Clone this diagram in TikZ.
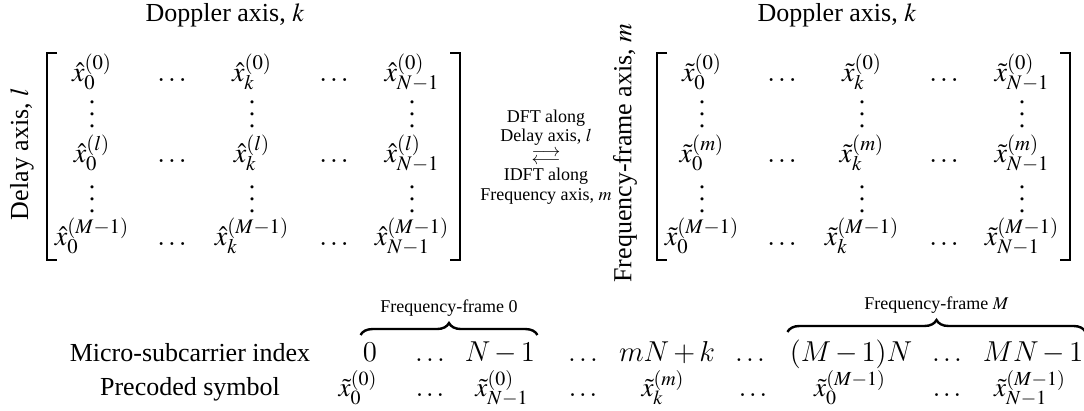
\documentclass[tikz,border=0pt,12pt]{standalone}
\usepackage{amsmath}
\usepackage{mathptmx}
\usepackage[no-math]{fontspec}
\setmainfont{Liberation Serif}
\usetikzlibrary{decorations.pathreplacing}

% computer modern math for the index row
\DeclareMathVersion{cmver}
\SetSymbolFont{operators}{cmver}{OT1}{cmr}{m}{n}
\SetSymbolFont{letters}{cmver}{OML}{cmm}{m}{it}
\SetSymbolFont{symbols}{cmver}{OMS}{cmsy}{m}{n}
\SetSymbolFont{largesymbols}{cmver}{OMX}{cmex}{m}{n}

\newcommand{\bigtext}{\fontsize{13}{15.6}\selectfont}
\newcommand{\smalltext}{\fontsize{9}{9.75}\selectfont}
\newcommand{\arrowpair}{\smash{\begin{array}{@{}c@{}}\longrightarrow\\[-6pt]\longleftarrow\end{array}}}
\newcommand{\tallvdots}{\vbox{\baselineskip6pt\lineskiplimit0pt\hbox{.}\hbox{.}\hbox{.}}}
% symbol with sub- and superscript set at fixed heights
\newcommand{\ent}[3]{#1{x}^{\smash{\raisebox{1pt}{$\scriptstyle(#3)$}}}_{\smash{\raisebox{-0.5pt}{$\scriptstyle #2$}}}}

\tikzstyle{entry}=[anchor=base, inner sep=2pt, font=\fontsize{14}{16.8}\selectfont]
\tikzstyle{vdot}=[inner sep=0pt]
\tikzstyle{axis-label}=[rotate=90]
\tikzstyle{note}=[font=\smalltext, align=center]
\tikzstyle{index}=[anchor=base, inner xsep=1pt, inner ysep=4pt, font={\fontsize{13.5}{16}\selectfont\mathversion{cmver}}]
\tikzstyle{symbol}=[anchor=base, inner sep=1pt, font=\fontsize{13.5}{16}\selectfont]
\tikzstyle{bracket}=[line width=1.3pt]
\tikzstyle{frame-brace}=[decorate, decoration={brace, amplitude=6pt}, line width=1.2pt]

\begin{document}
\begin{tikzpicture}[x=0.5pt, y=-0.5pt, font=\bigtext]
\useasboundingbox (0,0) rectangle (1084,411);

\node[anchor=base] (L-title) at (225,22) {Doppler axis, $k$};
\node[anchor=base] (R-title) at (837,22) {Doppler axis, $k$};
\node[axis-label] (L-side) at (22,154) {Delay axis, $l$};
\node[axis-label] (R-side) at (625,153) {Frequency-frame axis, $m$};

\foreach \mat/\dx/\acc/\ax in {L/0/\hat/l, R/610/\tilde/m}
{
	\foreach \r/\y/\s in {0/82/0, 2/163/\ax, 4/246/M-1}
	{
		\node[entry] (\mat-\r-0) at (92+\dx,\y) {$\ent{\acc}{0}{\s}$};
		\node[entry] (\mat-\r-1) at (172+\dx,\y) {$\ldots$};
		\node[entry] (\mat-\r-2) at (252+\dx,\y) {$\ent{\acc}{k}{\s}$};
		\node[entry] (\mat-\r-3) at (334+\dx,\y) {$\ldots$};
		\node[entry] (\mat-\r-4) at (412+\dx,\y) {$\ent{\acc}{N-1}{\s}$};
	}
	\foreach \r/\y in {1/114, 3/199}
		\foreach \c/\x in {0/92, 2/252, 4/412}
			\node[vdot] (\mat-\r-\c) at (\x+\dx,\y) {\tallvdots};
	\coordinate (\mat-top) at (47+\dx,53);
	\coordinate (\mat-bot) at (460+\dx,260);
	\draw[bracket] (\mat-top) ++(10,0) -| (\mat-top |- \mat-bot) -- ++(10,0);
	\draw[bracket] (\mat-top -| \mat-bot) ++(-10,0) -| (\mat-bot) -- ++(-10,0);
}

\node[note] (dft) at (546,157) {DFT along\\Delay axis, $l$\\$\arrowpair$\\IDFT along\\Frequency axis, $m$};

% micro-subcarrier row
\node[anchor=base] (ix-label) at (190,362) {Micro-subcarrier index};
\node[anchor=base] (sy-label) at (190,396) {Precoded symbol};

\foreach \c/\x/\t in {0/370/0, 1/430/\ldots, 2/500/N-1, 3/583/\ldots, 4/667/mN+k, 5/750/\ldots, 6/851/{(M-1)N}, 7/947/\ldots, 8/1033/MN-1}
	\node[index] (ix-\c) at (\x,362) {$\t$};

\foreach \c/\x/\t in {0/358/\ent{\tilde}{0}{0}, 1/430/\ldots, 2/502/\ent{\tilde}{N-1}{0}, 3/583/\ldots, 4/663/\ent{\tilde}{k}{m}, 5/753/\ldots, 6/850/\ent{\tilde}{0}{M-1}, 7/947/\ldots, 8/1030/\ent{\tilde}{N-1}{M-1}}
	\node[symbol] (sy-\c) at (\x,397) {$\t$};

\draw[frame-brace] (ix-0.north west) -- (ix-0.north west -| ix-2.north east)
	node[note, midway, above=4.5pt] (ff-0) {Frequency-frame 0};
\draw[frame-brace] (ix-6.north west) -- (ix-6.north west -| ix-8.north east)
	node[note, midway, above=4.5pt] (ff-M) {Frequency-frame $M$};
\end{tikzpicture}
\end{document}
